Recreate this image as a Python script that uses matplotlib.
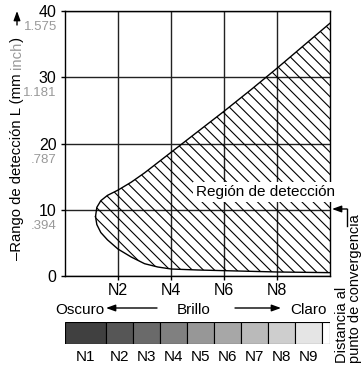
import matplotlib
matplotlib.use("Agg")
import matplotlib.pyplot as plt
from matplotlib.patches import Rectangle, FancyArrowPatch
from matplotlib.lines import Line2D

# detection region outline (brightness N, range mm)
upper_n = [1.15, 1.2, 1.35, 1.6, 2.0, 2.5, 3.0, 4.0, 5.0, 6.0, 7.0, 8.0, 9.0, 10.0]
upper_v = [9.0, 10.4, 11.4, 12.2, 13.0, 14.2, 15.6, 18.7, 21.8, 24.9, 28.1, 31.4, 34.8, 38.2]
lower_n = [1.15, 1.2, 1.35, 1.6, 2.0, 2.5, 3.0, 3.5, 4.0, 5.0, 6.0, 8.0, 10.0]
lower_v = [9.0, 7.8, 6.6, 5.5, 4.1, 2.9, 1.9, 1.4, 1.1, 0.95, 0.85, 0.65, 0.55]

x_ticks = [2, 4, 6, 8]
x_labels = ["N2", "N4", "N6", "N8"]
y_ticks = [0, 10, 20, 30, 40]
inch_ticks = [40, 30, 20, 10]
inch_labels = ["1.575", "1.181", ".787", ".394"]

# grey scale strip
bar_labels = ["N1", "N2", "N3", "N4", "N5", "N6", "N7", "N8", "N9", ""]
bar_edges = [0, 1.55, 2.56, 3.58, 4.6, 5.62, 6.63, 7.65, 8.67, 9.69, 10]
bar_colors = ["#404040", "#565656", "#6a6a6a", "#808080", "#979797",
              "#a7a7a7", "#bababa", "#cecece", "#e5e5e5", "#ffffff"]

W, H = 361, 365
plt.rcParams["font.family"] = ["Liberation Sans", "DejaVu Sans"]
plt.rcParams["hatch.linewidth"] = 0.8
fs = 11
grey = "#999999"


def fx(px):
    return px / W


def fy(py):
    return 1 - py / H


fig = plt.figure(figsize=(W / 100, H / 100), dpi=100)
ax = fig.add_axes([fx(65), fy(276.3), (330.3 - 65) / W, (276.3 - 11) / H])

xs = upper_n + lower_n[::-1]
ys = upper_v + lower_v[::-1]
ax.fill(xs, ys, facecolor="none", edgecolor="black", hatch="\\\\\\", linewidth=0, zorder=2)
ax.plot(upper_n, upper_v, color="black", lw=1, zorder=3)
ax.plot(lower_n, lower_v, color="black", lw=1, zorder=3)

ax.set_xlim(0, 10)
ax.set_ylim(0, 40)
ax.set_xticks(x_ticks)
ax.set_xticklabels(x_labels)
ax.set_yticks(y_ticks)
ax.grid(True, color="#222222", lw=1, zorder=1)
ax.set_axisbelow(True)
ax.tick_params(direction="out", length=3, width=1, pad=3, labelsize=11.5)
ax.tick_params(axis="x", pad=2)
for s in ax.spines.values():
    s.set_linewidth(1)

for v, lab in zip(inch_ticks, inch_labels):
    ax.annotate(lab, xy=(0, v), xycoords=("axes fraction", "data"),
                xytext=(-5.8, -11.5), textcoords="offset points",
                ha="right", va="center", fontsize=9.5, color=grey)

fig.text(fx(265), fy(196), "Región de detección", ha="center", va="baseline",
         fontsize=fs, zorder=10,
         bbox=dict(facecolor="white", edgecolor="none", pad=2))

# y label in pieces so "inch" can be grey
renderer = fig.canvas.get_renderer()
yfs = 10.7
bx, y = 21, 260
space = 0.278 * yfs * 100 / 72
for s, c in [("–Rango de detección L (mm", "black"), ("inch", grey), (")", "black")]:
    t = fig.text(fx(bx), fy(y), s, rotation=90, rotation_mode="anchor",
                 ha="left", va="baseline", color=c, fontsize=yfs)
    y -= t.get_window_extent(renderer).height
    if s.endswith("mm"):
        y -= space


def arrow(p0, p1):
    fig.add_artist(FancyArrowPatch((fx(p0[0]), fy(p0[1])), (fx(p1[0]), fy(p1[1])),
                                   transform=fig.transFigure, shrinkA=0, shrinkB=0,
                                   arrowstyle="-|>,head_length=0.55,head_width=0.2",
                                   mutation_scale=10, lw=1, color="black"))


arrow((17, 25), (17, 11))

# brightness row
fig.text(fx(104), fy(314), "Oscuro", ha="right", va="baseline", fontsize=fs)
arrow((157, 308), (106, 308))
fig.text(fx(177), fy(314), "Brillo", ha="left", va="baseline", fontsize=fs)
arrow((235, 308), (281, 308))
fig.text(fx(290), fy(314), "Claro", ha="left", va="baseline", fontsize=fs)

bar = fig.add_axes([fx(65), fy(344.3), (330.3 - 65) / W, (344.3 - 321.7) / H])
for i in range(len(bar_colors)):
    bar.add_patch(Rectangle((bar_edges[i], 0), bar_edges[i + 1] - bar_edges[i], 1,
                            facecolor=bar_colors[i], edgecolor="black", lw=0.8))
    if bar_labels[i]:
        bar.text((bar_edges[i] + bar_edges[i + 1]) / 2, -0.25, bar_labels[i],
                 ha="center", va="top", fontsize=fs)
bar.set_xlim(0, 10)
bar.set_ylim(0, 1)
bar.axis("off")

# convergence distance label
fig.text(fx(346), fy(363), "Distancia al", rotation=90, rotation_mode="anchor",
         ha="left", va="baseline", fontsize=10.5)
fig.text(fx(359), fy(363), "punto de convergencia", rotation=90, rotation_mode="anchor",
         ha="left", va="baseline", fontsize=10.5)
fig.add_artist(Line2D([fx(347), fx(347)], [fy(226), fy(209)], color="black", lw=1))
arrow((347, 209), (332, 209))

fig.savefig("out.png", dpi=100)
